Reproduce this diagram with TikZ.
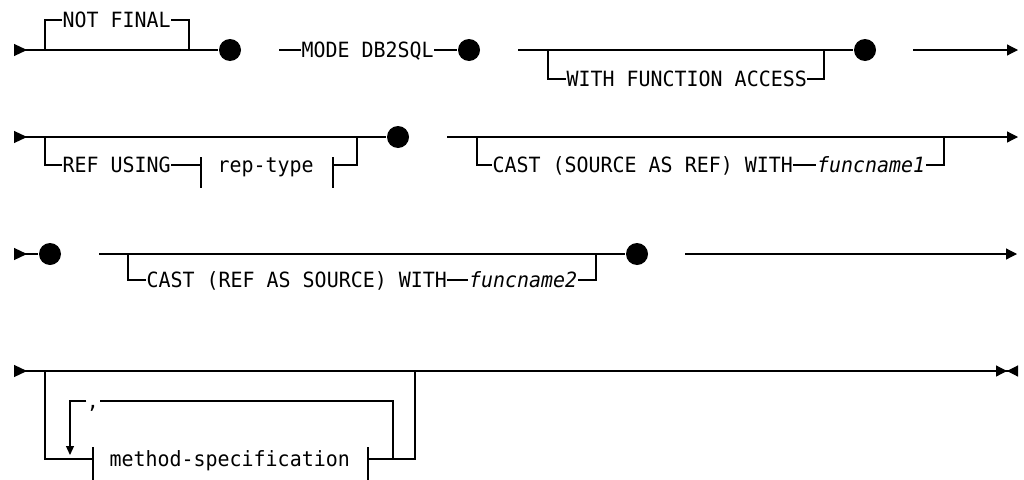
\documentclass[tikz,border=0pt]{standalone}
\usepackage{fontspec}
\setmonofont{DejaVu Sans Mono}[ItalicFont={DejaVu Sans Mono Oblique},FakeStretch=0.95]
\usepackage{tikz}
\usetikzlibrary{arrows.meta,positioning}

\begin{document}
\begin{tikzpicture}[x=1pt,y=-1pt,line width=1.2pt,node distance=22pt]
  \tikzstyle{kw}=[font=\ttfamily\fontsize{21}{25}\selectfont,inner sep=0pt,text height=15.3pt,text depth=0pt,anchor=west]
  \tikzstyle{var}=[kw,font=\ttfamily\itshape\fontsize{21}{25}\selectfont]
  \tikzstyle{dot}=[circle,fill,inner sep=0pt,minimum size=22pt]
  \tikzstyle{lead}=[{Triangle[reversed,length=13pt,width=12pt]}-]
  \tikzstyle{cont}=[-{Triangle[length=11pt,width=11pt]}]
  \tikzstyle{finish}=[-{Triangle[length=11pt,width=11pt]Triangle[reversed,length=11pt,width=11pt]}]
  \tikzstyle{repeatarr}=[-{Triangle[length=9pt,width=8pt]}]
  \useasboundingbox (0,0) rectangle (1024,479);

  % row 1
  \coordinate (r1s) at (14,50);
  \coordinate (r1a) at (45,50);
  \coordinate (r1b) at (189,50);
  \node[kw] (notfinal) at (62,20) {NOT FINAL};
  \node[dot] (d1) at (230,50) {};
  \draw[lead] (r1s) -- (d1);
  \draw (r1a) |- (notfinal);
  \draw (notfinal) -| (r1b);

  \coordinate (r1c) at (279,50);
  \node[kw] (mode) at (301,50) {MODE DB2SQL};
  \node[dot] (d2) at (469,50) {};
  \draw (r1c) -- (mode) -- (d2);

  \coordinate (r1d) at (518,50);
  \coordinate (r1e) at (548,50);
  \coordinate (r1f) at (824,50);
  \node[kw] (wfa) at (566,79) {WITH FUNCTION ACCESS};
  \node[dot] (d3) at (865,50) {};
  \draw (r1d) -- (d3);
  \draw (r1e) |- (wfa);
  \draw (wfa) -| (r1f);

  \coordinate (r1g) at (913,50);
  \coordinate (r1h) at (1018,50);
  \draw[cont] (r1g) -- (r1h);

  % row 2
  \coordinate (r2s) at (14,137);
  \coordinate (r2a) at (45,137);
  \coordinate (r2b) at (357,137);
  \node[kw] (refusing) at (62,165) {REF USING};
  \coordinate (rt1) at (201,165);
  \node[kw] (reptype) at (217,165) {rep-type};
  \coordinate (rt2) at (333,165);
  \node[dot] (d4) at (398,137) {};
  \draw[lead] (r2s) -- (d4);
  \draw (r2a) |- (refusing);
  \draw (refusing) -- (rt1);
  \draw (rt1) ++(0,-8) -- ++(0,31);
  \draw (rt2) ++(0,-8) -- ++(0,31);
  \draw (rt2) -| (r2b);

  \coordinate (r2c) at (447,137);
  \coordinate (r2d) at (477,137);
  \coordinate (r2e) at (944,137);
  \coordinate (r2f) at (1018,137);
  \node[kw] (cast1) at (492,165) {CAST (SOURCE AS REF) WITH};
  \node[var,right=23pt of cast1] (fn1) {funcname1};
  \draw[cont] (r2c) -- (r2f);
  \draw (r2d) |- (cast1);
  \draw (cast1) -- (fn1);
  \draw (fn1) -| (r2e);

  % row 3
  \coordinate (r3s) at (14,254);
  \node[dot] (d5) at (50,254) {};
  \draw[lead] (r3s) -- (d5);

  \coordinate (r3a) at (99,254);
  \coordinate (r3b) at (128,254);
  \coordinate (r3c) at (596,254);
  \node[kw] (cast2) at (146,280) {CAST (REF AS SOURCE) WITH};
  \node[var,right=21pt of cast2] (fn2) {funcname2};
  \node[dot] (d6) at (637,254) {};
  \draw (r3a) -- (d6);
  \draw (r3b) |- (cast2);
  \draw (cast2) -- (fn2);
  \draw (fn2) -| (r3c);

  \coordinate (r3d) at (685,254);
  \coordinate (r3e) at (1017,254);
  \draw[cont] (r3d) -- (r3e);

  % row 4
  \coordinate (r4s) at (14,371);
  \coordinate (r4a) at (45,371);
  \coordinate (r4b) at (415,371);
  \coordinate (r4e) at (1018,371);
  \draw[lead] (r4s) -- (r4a);
  \draw[finish] (r4a) -- (r4e);

  \coordinate (ms1) at (93,459);
  \node[kw] (method) at (109,459) {method-specification};
  \coordinate (ms2) at (368,459);
  \draw (r4a) |- (ms1);
  \draw (ms1) ++(0,-12) -- ++(0,40);
  \draw (ms2) ++(0,-12) -- ++(0,40);
  \draw (ms2) -| (r4b);

  \coordinate (lp1) at (393,459);
  \coordinate (lp2) at (70,455);
  \node[kw,anchor=center] (comma) at (93,401) {,};
  \draw (lp1) |- (comma);
  \draw[repeatarr] (comma) -| (lp2);
\end{tikzpicture}
\end{document}
